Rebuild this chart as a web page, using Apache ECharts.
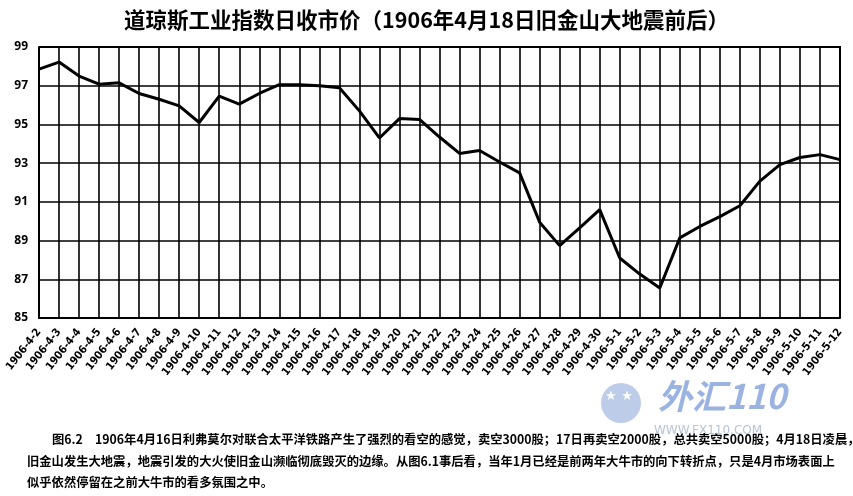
<!DOCTYPE html>
<html>
<head>
<meta charset="utf-8">
<script src="https://cdn.jsdelivr.net/npm/echarts@6/dist/echarts.min.js"></script>
<style>
html,body{margin:0;padding:0;background:#fff;}
#chart{width:853px;height:496px;}
</style>
</head>
<body>
<div id="chart"></div>
<script>
var titleText = '道琼斯工业指数日收市价（1906年4月18日旧金山大地震前后）';
var aprilDays = ['1906-4-2','1906-4-3','1906-4-4','1906-4-5','1906-4-6','1906-4-7','1906-4-8','1906-4-9','1906-4-10','1906-4-11','1906-4-12','1906-4-13','1906-4-14','1906-4-15','1906-4-16','1906-4-17','1906-4-18','1906-4-19','1906-4-20','1906-4-21','1906-4-22','1906-4-23','1906-4-24','1906-4-25','1906-4-26','1906-4-27','1906-4-28','1906-4-29','1906-4-30'];
var mayDays = ['1906-5-1','1906-5-2','1906-5-3','1906-5-4','1906-5-5','1906-5-6','1906-5-7','1906-5-8','1906-5-9','1906-5-10','1906-5-11','1906-5-12'];
var categories = aprilDays.concat(mayDays);
var closeValues = [97.86, 98.22, 97.5, 97.08, 97.15, 96.6, 96.3, 95.96, 95.1, 96.46, 96.05, 96.6, 97.05, 97.05, 97.0, 96.9, 95.7, 94.3, 95.3, 95.26, 94.35, 93.5, 93.65, 93.06, 92.5, 89.95, 88.74, 89.66, 90.6, 88.1, 87.27, 86.55, 89.14, 89.73, 90.24, 90.8, 92.07, 92.92, 93.29, 93.44, 93.18];
var yMin = 85, yMax = 99, yStep = 2;
var captionLines = [
  '图6.2　1906年4月16日利弗莫尔对联合太平洋铁路产生了强烈的看空的感觉，卖空3000股；17日再卖空2000股，总共卖空5000股；4月18日凌晨，',
  '旧金山发生大地震，地震引发的大火使旧金山濒临彻底毁灭的边缘。从图6.1事后看，当年1月已经是前两年大牛市的向下转折点，只是4月市场表面上',
  '似乎依然停留在之前大牛市的看多氛围之中。'
];

var chart = echarts.init(document.getElementById('chart'));
var cjk = '"Noto Sans CJK SC", "Noto Sans", sans-serif';
chart.setOption({
  backgroundColor: '#fff',
  animation: false,
  title: {
    text: titleText,
    left: 'center',
    top: 4,
    textStyle: {fontFamily: cjk, fontSize: 21.5, fontWeight: 'bold', color: '#000'}
  },
  grid: {left: 39, right: 13, top: 47, bottom: 178},
  xAxis: {
    type: 'category',
    data: categories,
    boundaryGap: false,
    axisLine: {show: true, lineStyle: {color: '#000', width: 2}},
    axisTick: {show: false},
    splitLine: {show: true, lineStyle: {color: '#000', width: 1.6}},
    axisLabel: {
      interval: 0,
      rotate: 52,
      margin: 12,
      fontSize: 11,
      fontWeight: 'bold',
      fontFamily: '"Liberation Sans Narrow", "DejaVu Sans Condensed", sans-serif',
      color: '#000'
    }
  },
  yAxis: {
    type: 'value',
    min: yMin,
    max: yMax,
    interval: yStep,
    axisLine: {show: true, lineStyle: {color: '#000', width: 2}},
    axisTick: {show: false},
    splitLine: {show: true, lineStyle: {color: '#000', width: 1.6}},
    axisLabel: {
      margin: 11,
      fontSize: 12,
      fontWeight: 'bold',
      fontFamily: '"Open Sans", sans-serif',
      color: '#000'
    }
  },
  series: [{
    type: 'line',
    data: closeValues,
    symbol: 'none',
    lineStyle: {color: '#000', width: 3},
    z: 5
  }],
  graphic: [
    {type: 'rect', left: 839, top: 47, shape: {width: 2, height: 271}, style: {fill: '#000'}, z: 10},
    {type: 'rect', left: 39, top: 46, shape: {width: 802, height: 2}, style: {fill: '#000'}, z: 10},
    {type: 'circle', shape: {cx: 621, cy: 403, r: 20}, style: {fill: '#9fb6e0', opacity: 0.7}, z: 1},
    {type: 'text', left: 605, top: 390, style: {text: '★ ★', fill: '#fff', font: 'bold 13px "DejaVu Sans"'}, z: 2},
    {type: 'text', left: 658, top: 379, style: {text: '外汇110', fill: '#8aa6dc', font: 'italic bold 34px "Noto Sans CJK SC"', opacity: 0.85}, z: 1},
    {type: 'text', left: 654, top: 425, style: {text: 'WWW.FX110.COM', fill: '#b7c3d6', font: '12px "DejaVu Sans"'}, z: 1},
    {type: 'text', left: 52, top: 433, style: {text: captionLines[0], fill: '#000', font: 'bold 12.3px ' + cjk}},
    {type: 'text', left: 27, top: 455, style: {text: captionLines[1], fill: '#000', font: 'bold 12.3px ' + cjk}},
    {type: 'text', left: 27, top: 476, style: {text: captionLines[2], fill: '#000', font: 'bold 12.3px ' + cjk}}
  ]
});
</script>
</body>
</html>
